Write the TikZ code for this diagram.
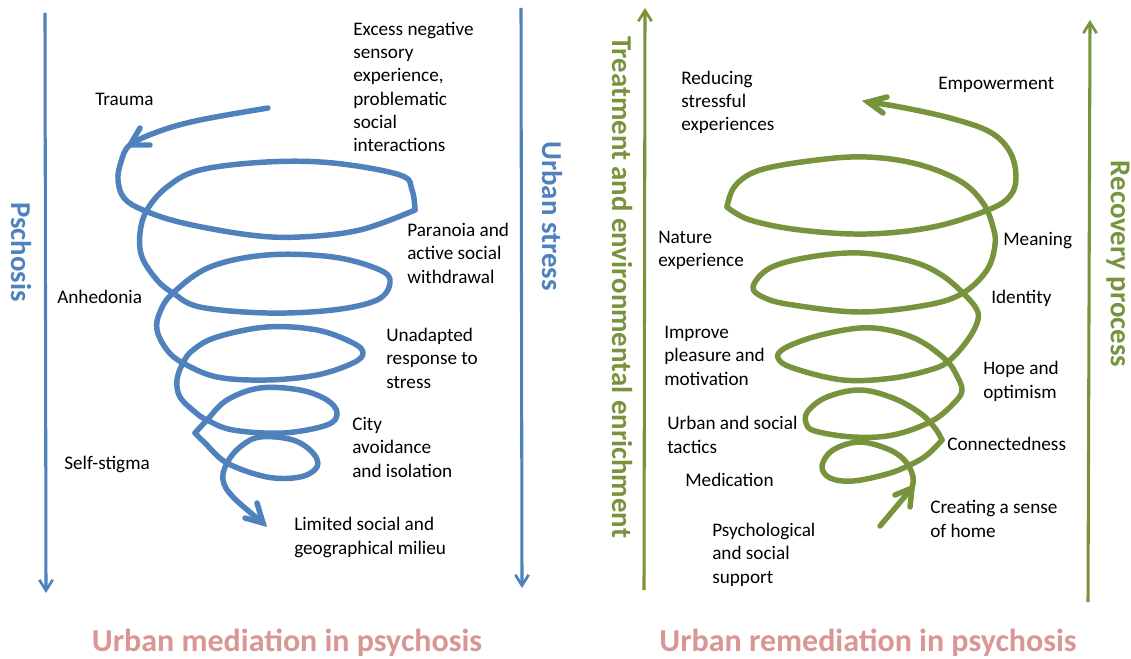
\documentclass[tikz,border=0pt]{standalone}
\usepackage{fontspec}
\setmainfont{Carlito}
\usetikzlibrary{arrows.meta}
\definecolor{sblue}{HTML}{4F81BD}
\definecolor{sgreen}{HTML}{77933C}
\definecolor{spink}{HTML}{D99694}
\begin{document}
\begin{tikzpicture}[x=0.75pt,y=-0.75pt,
  lbl/.style={anchor=base west, align=left, inner sep=0pt, font=\fontsize{14.4}{17.5}\selectfont},
  vlab/.style={rotate=-90, inner sep=0pt, font=\fontsize{21.6}{24}\selectfont\bfseries},
  ttl/.style={anchor=base, inner sep=0pt, text=spink, font=\fontsize{24}{28}\selectfont\bfseries},
  axis/.style={line width=2.3pt, -{Straight Barb[length=8pt,width=10pt,line width=2pt]}},
  spiral/.style={line width=4.1pt, line cap=round, line join=round},
  head/.style={line width=4.1pt, line cap=round, line join=miter}]
\useasboundingbox (0,0) rectangle (1131,659);
\fill[white] (0,0) rectangle (1131,659);

% ---------------- left (blue) ----------------
\coordinate (bla) at (45,13);  \coordinate (blb) at (46,593);
\coordinate (bra) at (521,8);  \coordinate (brb) at (522,588);
\draw[axis, sblue] (bla) -- (blb);
\draw[axis, sblue] (bra) -- (brb);
\node[vlab, text=sblue] (pschosis) at (21,252) {Pschosis};
\node[vlab, text=sblue] (ustress) at (552,216) {Urban stress};

\draw[spiral, sblue] plot[smooth, tension=0.6] coordinates {(268,108) (200,120) (160,131) (130,145) (121,162) (118,180) (124,198) (143,210) (183,223) (250,235) (300,237) (360,230) (415,210)};
\draw[spiral, sblue] plot[smooth, tension=0.6] coordinates {(415,210) (412,190) (400,175) (333,163) (267,162) (200,170) (167,187) (147,210) (140,233) (142,257) (157,280) (173,293) (200,307) (267,313) (333,310) (377,300) (390,283) (380,270) (333,257) (267,255) (210,267) (173,293) (160,312) (157,330) (167,350) (183,363) (217,377) (267,380) (317,375) (353,363) (363,353) (353,343) (317,330) (267,327) (217,337) (193,350) (183,363) (177,380) (180,397) (195,412) (207,420) (233,430) (283,433) (327,425) (337,413) (327,400) (300,390) (260,388) (227,400) (207,420) (195,433)};
\draw[spiral, sblue] plot[smooth, tension=0.6] coordinates {(195,433) (205,443) (227,463) (267,477) (300,477) (317,467) (313,453) (293,440) (260,437) (240,447) (227,463) (223,480) (233,497) (263,523)};
\draw[head, sblue] (140,128) -- (130,145) -- (150,145);
\draw[head, sblue] (257,503) -- (263,523) -- (245,518);

\node[lbl] (excess) at (353,152) {Excess negative\\sensory\\experience,\\problematic\\social\\interactions};
\node[lbl] (trauma) at (95,106) {Trauma};
\node[lbl] (paranoia) at (407,283) {Paranoia and\\active social\\withdrawal};
\node[lbl] (anhedonia) at (57,303) {Anhedonia};
\node[lbl] (unadapted) at (386,388) {Unadapted\\response to\\stress};
\node[lbl] (city) at (352,477) {City\\avoidance\\and isolation};
\node[lbl] (selfstigma) at (64,469) {Self-stigma};
\node[lbl] (limited) at (294,554) {Limited social and\\geographical milieu};

\node[ttl] (t1) at (287,651) {Urban mediation in psychosis};

% ---------------- right (green) ----------------
\coordinate (gla) at (644,590); \coordinate (glb) at (645,8);
\coordinate (gra) at (1088,602); \coordinate (grb) at (1090,20);
\draw[axis, sgreen] (gla) -- (glb);
\draw[axis, sgreen] (gra) -- (grb);
\node[vlab, text=sgreen] (treat) at (622,287) {Treatment and environmental enrichment};
\node[vlab, text=sgreen] (recov) at (1118,264) {Recovery process};

\draw[spiral, sgreen] (880,526) -- (912,488);
\draw[spiral, sgreen] plot[smooth, tension=0.6] coordinates {(912,488) (913,477) (906,462) (890,450) (860,442) (833,450) (822,466) (830,478) (853,481) (887,474) (910,465) (927,455) (942,440)};
\draw[spiral, sgreen] plot[smooth, tension=0.6] coordinates {(942,440) (935,428) (920,413) (893,398) (860,390) (827,397) (808,411) (806,423) (815,431) (853,437) (893,435) (932,421) (955,402) (962,390) (957,376) (947,361) (922,342) (893,331) (860,328) (817,336) (785,348) (778,358) (793,368) (843,380) (893,378) (933,369) (950,360) (967,341) (977,323) (977,310) (963,293) (940,274) (910,261) (860,253) (810,257) (770,268) (753,287) (765,298) (793,305) (860,312) (927,305) (963,293) (987,270) (995,245) (993,227) (983,203) (960,181) (917,164) (867,157) (817,160) (760,170) (735,186) (727,207)};
\draw[spiral, sgreen] plot[smooth, tension=0.6] coordinates {(727,207) (750,220) (800,230) (867,234) (933,227) (988,210) (1010,196) (1016,177) (1010,152) (990,132) (950,118) (900,107) (868,102)};
\draw[head, sgreen] (895,495) -- (912,488) -- (910,507);
\draw[head, sgreen] (887,97) -- (868,102) -- (883,113);

\node[lbl] (reducing) at (681,131) {Reducing\\stressful\\experiences};
\node[lbl] (empower) at (938,90) {Empowerment};
\node[lbl] (nature) at (658,267) {Nature\\experience};
\node[lbl] (meaning) at (1003,246) {Meaning};
\node[lbl] (identity) at (991,303) {Identity};
\node[lbl] (improve) at (664,385) {Improve\\pleasure and\\motivation};
\node[lbl] (hope) at (983,398) {Hope and\\optimism};
\node[lbl] (urbansoc) at (667,453) {Urban and social\\tactics};
\node[lbl] (connect) at (947,450) {Connectedness};
\node[lbl] (medication) at (685,486) {Medication};
\node[lbl] (creating) at (930,537) {Creating a sense\\of home};
\node[lbl] (psych) at (712,583) {Psychological\\and social\\support};

\node[ttl] (t2) at (868,651) {Urban remediation in psychosis};
\end{tikzpicture}
\end{document}
